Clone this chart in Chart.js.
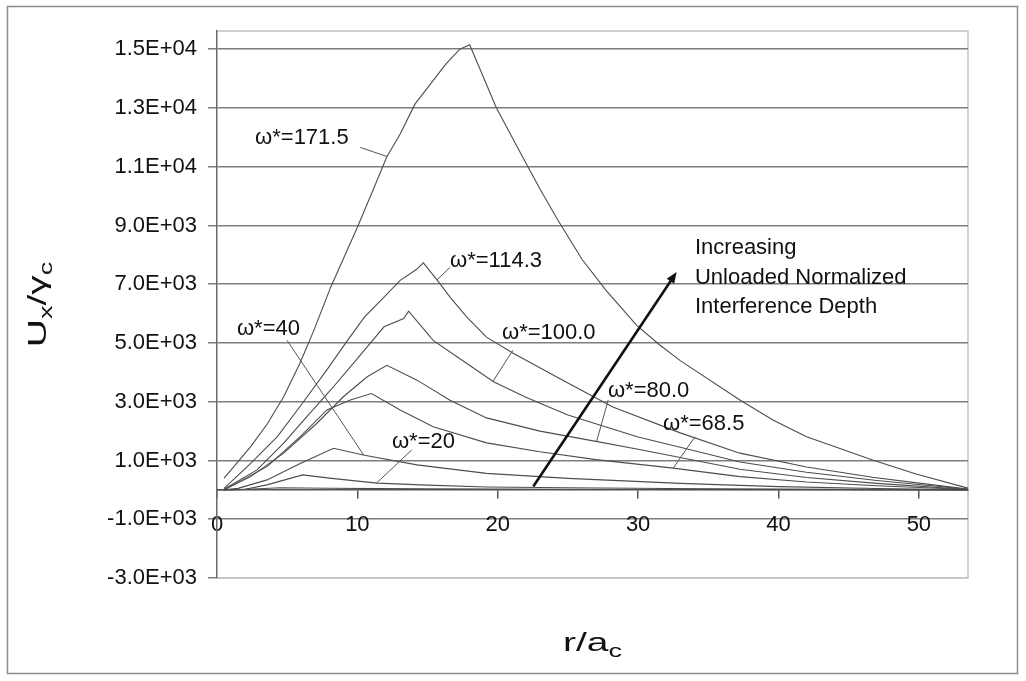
<!DOCTYPE html>
<html lang="en">
<head>
<meta charset="UTF-8">
<title>Ux/γc vs r/ac</title>
<script src="https://cdn.jsdelivr.net/npm/chart.js"></script>
<style>
  html, body { margin: 0; padding: 0; background: #fff; }
  #wrap { width: 1026px; height: 681px; }
</style>
</head>
<body>
<div id="wrap"><canvas id="uxChart" width="1026" height="681"></canvas></div>
<script>
// axis ticks
const xTicks = [0, 10, 20, 30, 40, 50];
const yTicks = [-3000, -1000, 1000, 3000, 5000, 7000, 9000, 11000, 13000, 15000];

// curves (r/ac, Ux/γc)
const r171 = [0.5, 1.2, 2.4, 3.6, 4.75, 5.9, 6.9, 8.1, 10.0, 11.2, 12.1, 13.05, 14.1, 15.2, 16.3, 17.3, 18.0, 19.9, 21.4, 23.0, 24.3, 26.0, 27.7, 29.9, 31.5, 33.0, 37.25, 39.6, 42.0, 46.7, 49.8, 53.5];
const u171 = [400, 790, 1470, 2260, 3170, 4300, 5430, 6900, 8940, 10300, 11340, 12110, 13130, 13810, 14490, 15000, 15150, 13010, 11660, 10250, 9170, 7850, 6800, 5600, 4950, 4400, 3060, 2380, 1810, 1020, 540, 60];

const r114 = [0.5, 2.4, 4.3, 5.9, 7.8, 9.3, 10.5, 11.9, 13.05, 14.2, 14.7, 15.7, 16.6, 17.8, 19.2, 21.1, 24.6, 28.2, 33.0, 37.25, 42.0, 46.7, 50.0, 53.5];
const u114 = [50, 900, 1810, 2830, 4070, 5090, 5880, 6560, 7130, 7500, 7730, 7130, 6560, 5880, 5200, 4650, 3740, 2820, 1940, 1250, 780, 430, 230, 30];

const r100 = [0.5, 2.85, 4.75, 6.4, 8.1, 9.5, 10.7, 11.9, 13.3, 13.65, 15.4, 17.8, 19.7, 22.0, 25.0, 28.0, 30.0, 33.0, 37.25, 42.0, 47.0, 53.5];
const u100 = [20, 680, 1590, 2490, 3400, 4190, 4870, 5550, 5830, 6080, 5090, 4300, 3680, 3150, 2550, 2100, 1800, 1450, 950, 600, 320, 20];

const r80 = [0.5, 2.4, 4.75, 7.1, 9.0, 10.7, 12.1, 14.25, 16.6, 19.2, 23.0, 27.0, 30.0, 33.0, 37.25, 42.0, 47.0, 53.5];
const u80 = [0, 450, 1250, 2260, 3170, 3850, 4240, 3735, 3050, 2450, 2000, 1650, 1380, 1100, 700, 420, 220, 15];

const r68 = [0.5, 3.56, 5.93, 7.83, 9.5, 11.0, 13.05, 15.4, 19.2, 23.0, 27.0, 32.5, 37.25, 42.0, 47.0, 53.5];
const u68 = [0, 790, 1810, 2720, 3060, 3280, 2720, 2150, 1600, 1300, 1030, 740, 450, 270, 140, 10];

const r40 = [0.5, 1.5, 3.56, 5.93, 8.3, 10.5, 14.25, 19.2, 25.0, 33.0, 40.0, 47.0, 53.5];
const u40 = [0, 50, 340, 900, 1415, 1180, 850, 560, 390, 220, 110, 45, 0];

const r20 = [0.5, 2.0, 3.56, 6.1, 8.0, 11.4, 15.0, 19.2, 25.0, 32.0, 40.0, 53.5];
const u20 = [0, 20, 170, 510, 400, 230, 160, 100, 70, 45, 25, 0];

const rLow = [0, 1.5, 3.0, 4.5, 8.0, 15.0, 30.0, 53.5];
const uLow = [0, 10, 40, 70, 55, 35, 15, 0];

// annotations (data coordinates)
const labelTexts = ['ω*=171.5', 'ω*=114.3', 'ω*=100.0', 'ω*=80.0', 'ω*=68.5', 'ω*=40', 'ω*=20'];
const labelX = [2.71, 16.6, 20.3, 27.85, 31.77, 1.42, 12.46];
const labelY = [11986, 7776, 5331, 3362, 2241, 5467, 1630];
const leaderStartX = [10.21, 16.6, 21.08, 27.87, 34.05, 4.99, 13.87];
const leaderStartY = [11657, 7572, 4754, 3056, 1810, 5093, 1358];
const leaderEndX = [12.11, 15.67, 19.66, 27.04, 32.5, 10.45, 11.37];

const arrowX = [22.53, 32.74];
const arrowY = [112, 7413];
const noteLines = ['Increasing', 'Unloaded Normalized', 'Interference Depth'];
const noteX = 34.05;
const noteY = [8014, 7012, 6010];

const curves = [[r171, u171], [r114, u114], [r100, u100], [r80, u80], [r68, u68], [r40, u40], [r20, u20], [rLow, uLow]];

const FONT = '"Liberation Sans", Arial, sans-serif';

function sci(v) {
  const parts = v.toExponential(1).split('e');
  const n = parseInt(parts[1], 10);
  return parts[0] + 'E' + (n < 0 ? '-' : '+') + String(Math.abs(n)).padStart(2, '0');
}

function yOn(xs, ys, x) {
  for (let i = 0; i < xs.length - 1; i++) {
    if (x >= xs[i] && x <= xs[i + 1]) {
      const t = (x - xs[i]) / (xs[i + 1] - xs[i]);
      return ys[i] + t * (ys[i + 1] - ys[i]);
    }
  }
  return ys[ys.length - 1];
}

// text with subscripts, stretched along its baseline
function richText(ctx, parts, x, y, angle, stretch, align) {
  ctx.save();
  ctx.translate(x, y);
  ctx.rotate(angle);
  ctx.scale(stretch, 1);
  let total = 0;
  parts.forEach(p => { ctx.font = p.size + 'px ' + FONT; total += ctx.measureText(p.t).width; });
  let cx = align === 'center' ? -total / 2 : 0;
  ctx.textBaseline = 'alphabetic';
  ctx.textAlign = 'left';
  ctx.fillStyle = '#111';
  parts.forEach(p => {
    ctx.font = p.size + 'px ' + FONT;
    ctx.fillText(p.t, cx, p.dy);
    cx += ctx.measureText(p.t).width;
  });
  ctx.restore();
}

const decor = {
  id: 'decor',
  beforeDraw(chart) {
    const ctx = chart.ctx;
    const a = chart.chartArea;
    ctx.save();
    ctx.fillStyle = '#fff';
    ctx.fillRect(0, 0, chart.width, chart.height);
    ctx.strokeStyle = '#8c8c8c';
    ctx.lineWidth = 1.5;
    ctx.strokeRect(7.5, 6.5, 1010, 667);
    ctx.strokeStyle = '#c4c4c4';
    ctx.lineWidth = 1.5;
    ctx.beginPath();
    ctx.moveTo(a.left, a.top);
    ctx.lineTo(a.right, a.top);
    ctx.lineTo(a.right, a.bottom);
    ctx.lineTo(a.left, a.bottom);
    ctx.stroke();
    ctx.restore();
  },
  afterDatasetsDraw(chart) {
    const ctx = chart.ctx;
    const xs = chart.scales.x, ys = chart.scales.y;
    const px = v => xs.getPixelForValue(v);
    const py = v => ys.getPixelForValue(v);
    ctx.save();

    // curve labels and leaders
    ctx.font = '22px ' + FONT;
    ctx.fillStyle = '#111';
    ctx.textAlign = 'left';
    ctx.textBaseline = 'middle';
    ctx.strokeStyle = '#555';
    ctx.lineWidth = 1;
    labelTexts.forEach((t, i) => {
      ctx.fillText(t, px(labelX[i]), py(labelY[i]));
      const c = curves[i];
      ctx.beginPath();
      ctx.moveTo(px(leaderStartX[i]), py(leaderStartY[i]));
      ctx.lineTo(px(leaderEndX[i]), py(yOn(c[0], c[1], leaderEndX[i])));
      ctx.stroke();
    });

    // arrow
    const x0 = px(arrowX[0]), y0 = py(arrowY[0]);
    const x1 = px(arrowX[1]), y1 = py(arrowY[1]);
    const ang = Math.atan2(y1 - y0, x1 - x0);
    const head = 11;
    ctx.strokeStyle = '#111';
    ctx.fillStyle = '#111';
    ctx.lineWidth = 2.6;
    ctx.beginPath();
    ctx.moveTo(x0, y0);
    ctx.lineTo(x1 - Math.cos(ang) * head * 0.8, y1 - Math.sin(ang) * head * 0.8);
    ctx.stroke();
    ctx.beginPath();
    ctx.moveTo(x1, y1);
    ctx.lineTo(x1 - head * Math.cos(ang) + 4.5 * Math.sin(ang), y1 - head * Math.sin(ang) - 4.5 * Math.cos(ang));
    ctx.lineTo(x1 - head * Math.cos(ang) - 4.5 * Math.sin(ang), y1 - head * Math.sin(ang) + 4.5 * Math.cos(ang));
    ctx.closePath();
    ctx.fill();

    // note text
    ctx.font = '22px ' + FONT;
    ctx.textBaseline = 'alphabetic';
    noteLines.forEach((t, i) => ctx.fillText(t, px(noteX), py(noteY[i])));
    ctx.restore();

    // axis titles
    const a = chart.chartArea;
    richText(ctx, [
      {t: 'U', size: 26, dy: 0},
      {t: 'x', size: 18, dy: 6},
      {t: '/γ', size: 26, dy: 0},
      {t: 'c', size: 18, dy: 6}
    ], 46, (a.top + a.bottom) / 2, -Math.PI / 2, 1.5, 'center');
    richText(ctx, [
      {t: 'r/a', size: 26, dy: 0},
      {t: 'c', size: 18, dy: 6}
    ], (a.left + a.right) / 2, 651, 0, 1.5, 'center');
  }
};

const ctx = document.getElementById('uxChart').getContext('2d');

new Chart(ctx, {
  type: 'line',
  data: {
    datasets: curves.map(c => ({
      data: c[0].map((r, i) => ({x: r, y: c[1][i]})),
      borderColor: '#4d4d4d',
      borderWidth: 1.1,
      pointRadius: 0,
      tension: 0,
      fill: false
    }))
  },
  options: {
    responsive: false,
    animation: false,
    devicePixelRatio: 1,
    layout: { padding: { left: 0, top: 31, right: 58, bottom: 103 } },
    plugins: {
      legend: { display: false },
      tooltip: { enabled: false }
    },
    scales: {
      x: {
        type: 'linear',
        position: { y: 0 },
        min: 0,
        max: 53.5,
        afterBuildTicks: s => { s.ticks = xTicks.map(v => ({value: v})); },
        afterFit: s => { s.height = 0; },
        grid: {
          drawOnChartArea: false,
          drawTicks: true,
          tickLength: 8,
          color: '#555',
          lineWidth: 1.5
        },
        border: { display: true, color: '#555', width: 1.5 },
        ticks: {
          padding: 14,
          maxRotation: 0,
          color: '#111',
          font: { family: FONT, size: 22 },
          callback: v => String(v)
        }
      },
      y: {
        type: 'linear',
        min: -3000,
        max: 15620,
        afterBuildTicks: s => { s.ticks = yTicks.map(v => ({value: v})); },
        afterFit: s => { s.width = 217; },
        grid: {
          color: c => (c.tick && c.tick.value === -3000) ? '#c4c4c4' : '#7d7d7d',
          tickColor: '#7d7d7d',
          lineWidth: 1.5,
          tickLength: 9
        },
        border: { display: true, color: '#6a6a6a', width: 1.5 },
        ticks: {
          padding: 11,
          color: '#111',
          font: { family: FONT, size: 22 },
          callback: v => sci(v)
        }
      }
    }
  },
  plugins: [decor]
});
</script>
</body>
</html>
